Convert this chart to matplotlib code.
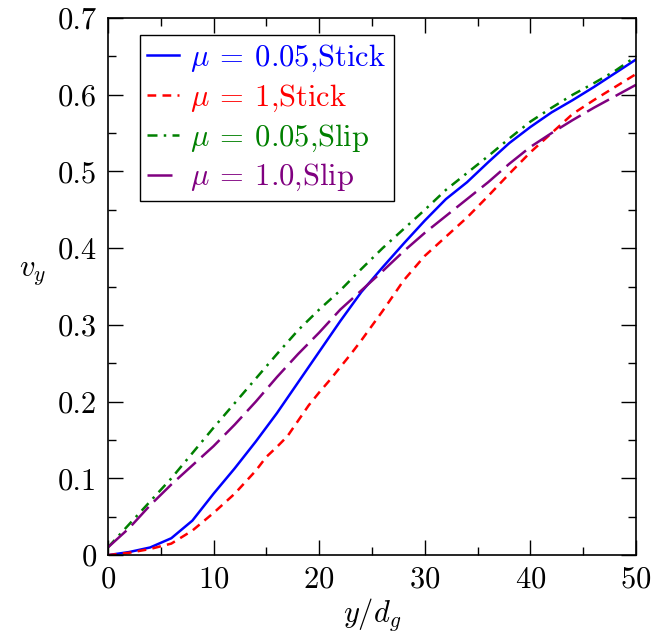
import numpy as np
import matplotlib
matplotlib.use("Agg")
import matplotlib.pyplot as plt
from matplotlib.ticker import MultipleLocator, FixedLocator, FixedFormatter

plt.rcParams["font.family"] = ["cmr10", "DejaVu Serif"]
plt.rcParams["mathtext.fontset"] = "cm"
plt.rcParams["axes.unicode_minus"] = False
plt.rcParams["axes.formatter.use_mathtext"] = True

# mu = 0.05, stick
x_stick005 = [0, 2, 4, 6, 8, 10, 12, 14, 16, 18, 20, 22, 24, 26, 28, 30, 32, 34, 36, 38, 40, 42, 44, 46, 48, 50]
v_stick005 = [0, 0.004, 0.01, 0.022, 0.045, 0.08, 0.113, 0.148, 0.185, 0.225, 0.265, 0.305, 0.343, 0.375,
              0.406, 0.436, 0.464, 0.486, 0.512, 0.537, 0.558, 0.577, 0.593, 0.61, 0.628, 0.646]

# mu = 1, stick
x_stick1 = [0, 2, 4, 6, 8, 10, 12, 14, 15, 16, 17, 18, 19, 20, 21, 22, 23, 24, 26, 28, 30, 32, 34, 36, 38,
            40, 42, 44, 46, 48, 50]
v_stick1 = [0, 0.003, 0.008, 0.015, 0.032, 0.055, 0.08, 0.11, 0.128, 0.141, 0.155, 0.175, 0.195, 0.212, 0.228,
            0.245, 0.262, 0.28, 0.318, 0.358, 0.39, 0.415, 0.44, 0.468, 0.497, 0.525, 0.55, 0.575, 0.593, 0.61, 0.627]

# mu = 0.05, slip
x_slip005 = [0, 1, 2, 3, 4, 6, 8, 10, 12, 14, 16, 18, 20, 22, 24, 26, 28, 30, 32, 34, 36, 38, 40, 42, 44, 46, 48, 50]
v_slip005 = [0.01, 0.025, 0.04, 0.055, 0.07, 0.1, 0.133, 0.166, 0.198, 0.23, 0.262, 0.293, 0.32, 0.345,
             0.373, 0.4, 0.425, 0.45, 0.476, 0.498, 0.52, 0.543, 0.565, 0.583, 0.6, 0.615, 0.631, 0.65]

# mu = 1.0, slip
x_slip1 = [0, 2, 4, 6, 8, 10, 12, 14, 16, 18, 20, 22, 24, 26, 28, 30, 32, 34, 36, 38, 40, 42, 44, 46, 48, 50]
v_slip1 = [0.01, 0.035, 0.065, 0.092, 0.117, 0.142, 0.17, 0.2, 0.232, 0.262, 0.29, 0.32, 0.345, 0.37,
           0.396, 0.42, 0.442, 0.464, 0.486, 0.51, 0.532, 0.55, 0.567, 0.583, 0.598, 0.613]

y_ticks = [0, 0.1, 0.2, 0.3, 0.4, 0.5, 0.6, 0.7]
y_ticklabels = ["0", "0.1", "0.2", "0.3", "0.4", "0.5", "0.6", "0.7"]

fig = plt.figure(figsize=(6.66, 6.44), dpi=100)
ax = fig.add_axes([0.162, 0.138, 0.793, 0.834])

lw = 1.8
ax.plot(x_stick005, v_stick005, color="blue", lw=lw, label=r"$\mu\:=\:0.05$,Stick")
ax.plot(x_stick1, v_stick1, color="red", lw=lw, dashes=(3.5, 2.5), label=r"$\mu\:=\:1$,Stick")
ax.plot(x_slip005, v_slip005, color="green", lw=lw, dashes=(4, 2.5, 1, 2.5), label=r"$\mu\:=\:0.05$,Slip")
ax.plot(x_slip1, v_slip1, color="purple", lw=lw, dashes=(10, 3), label=r"$\mu\:=\:1.0$,Slip")

ax.set_xlim(0, 50)
ax.set_ylim(0, 0.7)
ax.xaxis.set_major_locator(MultipleLocator(10))
ax.xaxis.set_minor_locator(MultipleLocator(5))
ax.yaxis.set_major_locator(FixedLocator(y_ticks))
ax.yaxis.set_major_formatter(FixedFormatter(y_ticklabels))
ax.yaxis.set_minor_locator(MultipleLocator(0.05))
ax.tick_params(which="both", direction="in", top=True, right=True, labelsize=22, width=1.0)
ax.tick_params(which="major", length=11, pad=8)
ax.tick_params(which="minor", length=6)
for s in ax.spines.values():
    s.set_linewidth(1.2)

ax.set_xlabel(r"$y/d_g$", fontsize=22, labelpad=2)
ax.set_ylabel(r"$v_y$", fontsize=22, rotation=0, labelpad=18)

leg = ax.legend(loc="upper left", bbox_to_anchor=(0.06, 0.968), fontsize=22, handlelength=1.05,
                handletextpad=0.35, labelspacing=0.28, borderpad=0.25, borderaxespad=0,
                fancybox=False, framealpha=1)
leg.get_frame().set_edgecolor("black")
leg.get_frame().set_linewidth(1.0)
for txt, line in zip(leg.get_texts(), leg.get_lines()):
    txt.set_color(line.get_color())

fig.savefig("out.png", dpi=100)
